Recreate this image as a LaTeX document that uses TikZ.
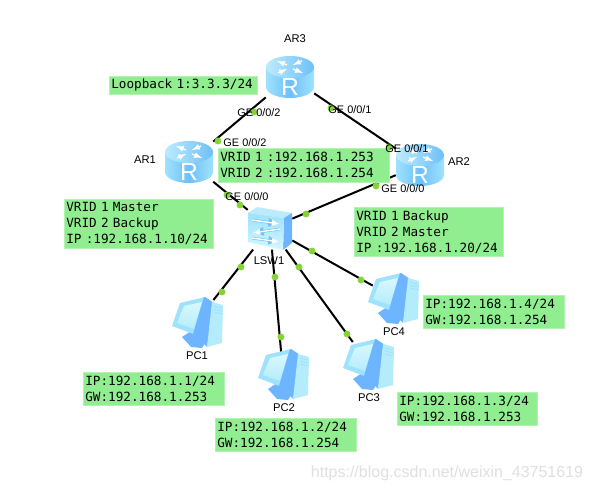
\documentclass[tikz,border=0pt]{standalone}
\usepackage{fontspec}
\setmainfont{Liberation Sans}
\newfontfamily\boxmono{DejaVu Sans Mono}
\newcommand{\infofont}{\fontsize{9.5pt}{12pt}\selectfont\boxmono\setlength{\spaceskip}{0.602em}}
\definecolor{boxgreen}{HTML}{90EE90}
\definecolor{boxedge}{HTML}{B4F2B4}
\definecolor{portgreen}{HTML}{84D435}
\definecolor{icoA}{HTML}{B5ECFC}
\definecolor{icoB}{HTML}{6FC0F8}
\definecolor{icoC}{HTML}{6DB6FF}
\definecolor{icoD}{HTML}{D8F8FF}
\definecolor{icoE}{HTML}{9FE2FD}
\tikzset{
  x=0.75pt,y=-0.75pt,
  device/.style={rectangle,inner sep=0pt,minimum width=#1},
  link/.style={draw=black,line width=1.5pt},
  portdot/.style={circle,fill=portgreen,draw=none,inner sep=0pt,minimum size=5.2pt},
  devlabel/.style={font=\fontsize{8.4pt}{10pt}\selectfont,inner sep=0pt},
  portlabel/.style={font=\fontsize{8.2pt}{10pt}\selectfont,inner sep=0pt},
  infobox/.style 2 args={fill=boxgreen,draw=boxedge,line width=0.5pt,anchor=north west,
    font=\infofont,align=left,inner xsep=1.5pt,inner ysep=0pt,
    text width=#1,minimum height=#2},
  routericon/.pic={
    \path[left color=icoE,right color=icoE,middle color=icoB]
      (-24,-10) -- (-24,10) arc[start angle=180,end angle=360,x radius=24,y radius=-11]
      -- (24,-10) -- cycle;
    \path[left color=icoE!70!white,right color=icoB] (0,-10) ellipse[x radius=24,y radius=11];
    \foreach \xa/\ya/\xb/\yb in {-3/-12/-13/-16, 12/-16/3/-12, 3/-8/13/-4, -12/-4/-3/-8}{
      \draw[white,line width=1pt,-latex] (\xa,\ya) -- (\xb,\yb);
    }
    \node[white,font=\fontsize{18.5pt}{20pt}\selectfont,inner sep=0pt] at (0,10) {R};
  },
  switchicon/.pic={
    \path[fill=icoE!70!white] (-22,-15) -- (-13,-21) -- (22,-15) -- (14,-10) -- cycle;
    \path[fill=icoC] (14,-10) -- (22,-15) -- (22,15) -- (13,22) -- cycle;
    \path[top color=icoE,bottom color=icoD,middle color=icoA] (-22,-15) -- (14,-10) -- (13,22) -- (-22,14) -- cycle;
    \foreach \yy/\dir in {-6/1,3/-1,12/1}{
      \draw[icoB,line width=2pt,-latex] (-4-\dir*14,\yy-2) -- (-4+\dir*14,\yy+2);
      \draw[white,line width=1.1pt,-latex] (-4-\dir*14,\yy-2) -- (-4+\dir*14,\yy+2);
    }
  },
  pcicon/.pic={
    \path[fill=icoC] (8,-24) -- (17,-18) -- (10,26) -- (-2,14) -- cycle;
    \path[fill=icoA] (15,-19) -- (26,-16) -- (25,22) -- (10,26) -- cycle;
    \draw[icoE,line width=0.7pt] (17,-15) -- (25,-13) (17,-12) -- (25,-10) (17,-9) -- (25,-7);
    \path[fill=icoC] (-15,16) -- (-6,10) -- (8,22) -- (5,27) -- (-6,26) -- cycle;
    \path[fill=icoE] (-17,-18) -- (8,-24) -- (-1,14) -- (-25,5) -- cycle;
    \path[top color=icoD,bottom color=icoA] (-13,-15) -- (5,-19) -- (-3,8) -- (-20,2) -- cycle;
    \path[fill=icoC] (-4,13) -- (7,-24) -- (10,-22) -- (0,15) -- cycle;
  },
}
\begin{document}
\begin{tikzpicture}
\useasboundingbox[fill=white] (0,0) rectangle (592,491);

\node[device=36pt,minimum height=31.5pt] (AR3) at (290,77) {};
\node[device=36pt,minimum height=31.5pt] (AR1) at (189,162) {};
\node[device=36pt,minimum height=31.5pt] (AR2) at (420,165) {};
\node[device=33pt,minimum height=32pt] (LSW1) at (270,228) {};
\node[device=30pt,minimum height=31pt] (PC1) at (197,321) {};
\node[device=30pt,minimum height=31pt] (PC2) at (283,373) {};
\node[device=30pt,minimum height=31pt] (PC3) at (368,363) {};
\node[device=30pt,minimum height=31pt] (PC4) at (393,297) {};

\draw[link] (AR3) -- (AR1);
\draw[link] (AR3) -- (AR2);
\draw[link] (AR1) -- (LSW1);
\draw[link] (AR2) -- (LSW1);
\draw[link] (LSW1) -- (PC1);
\draw[link] (LSW1) -- (PC2);
\draw[link] (LSW1) -- (PC3);
\draw[link] (LSW1) -- (PC4);

\pic at (AR3) {routericon};
\pic at (AR1) {routericon};
\pic at (AR2) {routericon};
\pic at (LSW1) {switchicon};
\pic at (PC1) {pcicon};
\pic at (PC2) {pcicon};
\pic at (PC3) {pcicon};
\pic at (PC4) {pcicon};

\node[infobox={108pt}{13.5pt}] (bLoop) at (109,76) {Loopback 1:3.3.3/24};
\node[infobox={125pt}{25.5pt}] (bVrid) at (218,148) {VRID 1 :192.168.1.253\\VRID 2 :192.168.1.254};
\node[infobox={108.5pt}{36.7pt}] (bLeft) at (64,199) {VRID 1 Master\\VRID 2 Backup\\IP :192.168.1.10/24};
\node[infobox={108.5pt}{36.7pt}] (bRight) at (354,207) {VRID 1 Backup\\VRID 2 Master\\IP :192.168.1.20/24};
\node[infobox={102.5pt}{25pt}] (bPC4) at (423,295) {IP:192.168.1.4/24\\GW:192.168.1.254};
\node[infobox={103pt}{25pt}] (bPC1) at (83,372) {IP:192.168.1.1/24\\GW:192.168.1.253};
\node[infobox={102.5pt}{25pt}] (bPC2) at (215,418) {IP:192.168.1.2/24\\GW:192.168.1.254};
\node[infobox={102pt}{25pt}] (bPC3) at (397,392) {IP:192.168.1.3/24\\GW:192.168.1.253};

\foreach \n/\p in {a/{254,112},b/{218,141},c/{331,108},d/{389,147},e/{376,186},f/{227,195},g/{240,205},h/{306,214},i/{241,267},j/{222,292},k/{275,277},l/{281,337},m/{299,267},n/{347,334},o/{312,251},q/{361,280}}{
  \node[portdot] (dot\n) at (\p) {};
}

\node[devlabel] (tAR3) at (295,39) {AR3};
\node[devlabel] (tAR1) at (145,160) {AR1};
\node[devlabel] (tAR2) at (459,162) {AR2};
\node[devlabel] (tLSW) at (269,261) {LSW1};
\node[devlabel] (tPC1) at (197,356) {PC1};
\node[devlabel] (tPC2) at (284,408) {PC2};
\node[devlabel] (tPC3) at (369,398) {PC3};
\node[devlabel] (tPC4) at (394,332) {PC4};

\node[portlabel] (p1) at (259,113) {GE 0/0/2};
\node[portlabel] (p2) at (245,143) {GE 0/0/2};
\node[portlabel] (p3) at (350,110) {GE 0/0/1};
\node[portlabel] (p4) at (407,149) {GE 0/0/1};
\node[portlabel] (p5) at (247,197) {GE 0/0/0};
\node[portlabel] (p6) at (403,189) {GE 0/0/0};

\node[font=\fontsize{12pt}{14pt}\selectfont,text=black!12,inner sep=0pt] (wm) at (447,473) {https://blog.csdn.net/weixin\_43751619};
\end{tikzpicture}
\end{document}
